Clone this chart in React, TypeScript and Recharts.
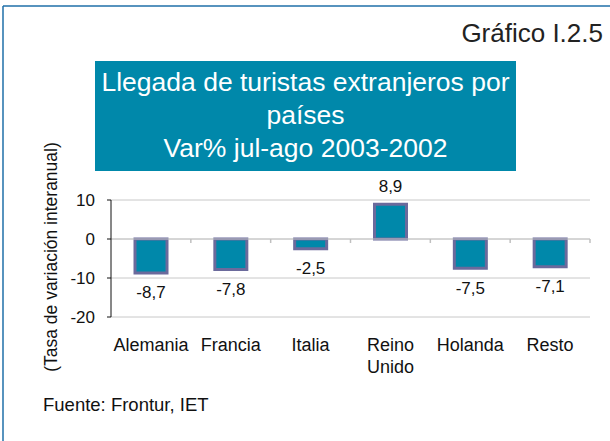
import React from "react";
import { BarChart, Bar, XAxis, YAxis, CartesianGrid, LabelList, ReferenceLine } from "recharts";

const categories = ["Alemania", "Francia", "Italia", "Reino Unido", "Holanda", "Resto"];
const variation = [-8.7, -7.8, -2.5, 8.9, -7.5, -7.1];
const yTicks = [-20, -10, 0, 10];

const FONT = '"Liberation Sans", Arial, Helvetica, sans-serif';
const TEAL = "#0088aa";
const BORDER = "#1f6fa8";

const chartData = categories.map((name, i) => ({ name, value: variation[i] }));

// category names can wrap onto two lines ("Reino Unido")
const CategoryTick = (props: any) => {
  const { x, y, payload } = props;
  const lines = String(payload.value).split(" ");
  return (
    <text x={x} y={y + 34} textAnchor="middle" fontSize={18} fill="#111" fontFamily={FONT}>
      {lines.map((line, i) => (
        <tspan key={line} x={x} dy={i === 0 ? 0 : 22}>
          {line}
        </tspan>
      ))}
    </text>
  );
};

// value under negative bars, above positive ones, with a decimal comma
const ValueLabel = (props: any) => {
  const { x, y, width, height, value } = props;
  const top = Math.min(y, y + height);
  const bottom = Math.max(y, y + height);
  const ly = value < 0 ? bottom + 20 : top - 17.5;
  return (
    <text x={x + width / 2} y={ly} textAnchor="middle" dominantBaseline="central" fontSize={17} fill="#111" fontFamily={FONT}>
      {String(value).replace(".", ",")}
    </text>
  );
};

// zero line with little ticks hanging down at each category boundary
const ZeroLine = (props: any) => {
  const { x1, x2, y1 } = props;
  const step = (x2 - x1) / categories.length;
  return (
    <g>
      <line x1={x1} x2={x2} y1={y1} y2={y1} stroke="#c8c8c8" />
      {categories.map((c, i) => {
        const tx = x1 + step * (i + 1);
        return <line key={c} x1={tx} x2={tx} y1={y1} y2={y1 + 4} stroke="#c0c0c0" strokeWidth={1.5} />;
      })}
    </g>
  );
};

const App: React.FC = () => {
  return (
    <div style={{ position: "absolute", left: 0, top: 0, width: 610, height: 441, background: "#fff", fontFamily: FONT }}>
      <BarChart width={610} height={441} data={chartData} margin={{ top: 200, right: 20, bottom: 94, left: 61 }}>
        <CartesianGrid vertical={false} stroke="#c8c8c8" />
        <XAxis dataKey="name" axisLine={false} tickLine={false} tickSize={0} tickMargin={0} height={30} interval={0} tick={<CategoryTick />} />
        <YAxis
          width={50}
          domain={[-20, 10]}
          ticks={yTicks}
          axisLine={{ stroke: "#111" }}
          tickLine={{ stroke: "#111" }}
          tickSize={4}
          tickMargin={12}
          tick={{ fontSize: 17, fill: "#111", fontFamily: FONT }}
        />
        <ReferenceLine y={0} shape={(p: any) => <ZeroLine {...p} />} />
        <Bar dataKey="value" fill={TEAL} stroke="#6b6a9c" strokeWidth={3} barSize={32} isAnimationActive={false}>
          <LabelList dataKey="value" content={<ValueLabel />} />
        </Bar>
      </BarChart>

      <svg width={610} height={441} style={{ position: "absolute", left: 0, top: 0, pointerEvents: "none" }}>
        <line x1={3} y1={6} x2={610} y2={6} stroke={BORDER} strokeWidth={1.5} />
        <line x1={3} y1={6} x2={3} y2={441} stroke={BORDER} strokeWidth={1.5} />
        <text x={603} y={42} textAnchor="end" fontSize={26} fill="#222" fontFamily={FONT}>
          Gráfico I.2.5
        </text>
        <rect x={95} y={61} width={421} height={110} fill={TEAL} />
        <text x={305.5} y={91} textAnchor="middle" fontSize={26.5} fill="#fff" fontFamily={FONT}>
          Llegada de turistas extranjeros por
        </text>
        <text x={305.5} y={124} textAnchor="middle" fontSize={26.5} fill="#fff" fontFamily={FONT}>
          países
        </text>
        <text x={305.5} y={157} textAnchor="middle" fontSize={26.5} fill="#fff" fontFamily={FONT}>
          Var% jul-ago 2003-2002
        </text>
        <text
          x={51}
          y={257}
          transform="rotate(-90 51 257)"
          textAnchor="middle"
          dominantBaseline="central"
          fontSize={17.5}
          fill="#111"
          fontFamily={FONT}
        >
          (Tasa de variación interanual)
        </text>
        <text x={43} y={411} fontSize={18.5} fill="#111" fontFamily={FONT}>
          Fuente: Frontur, IET
        </text>
      </svg>
    </div>
  );
};

export default App;
